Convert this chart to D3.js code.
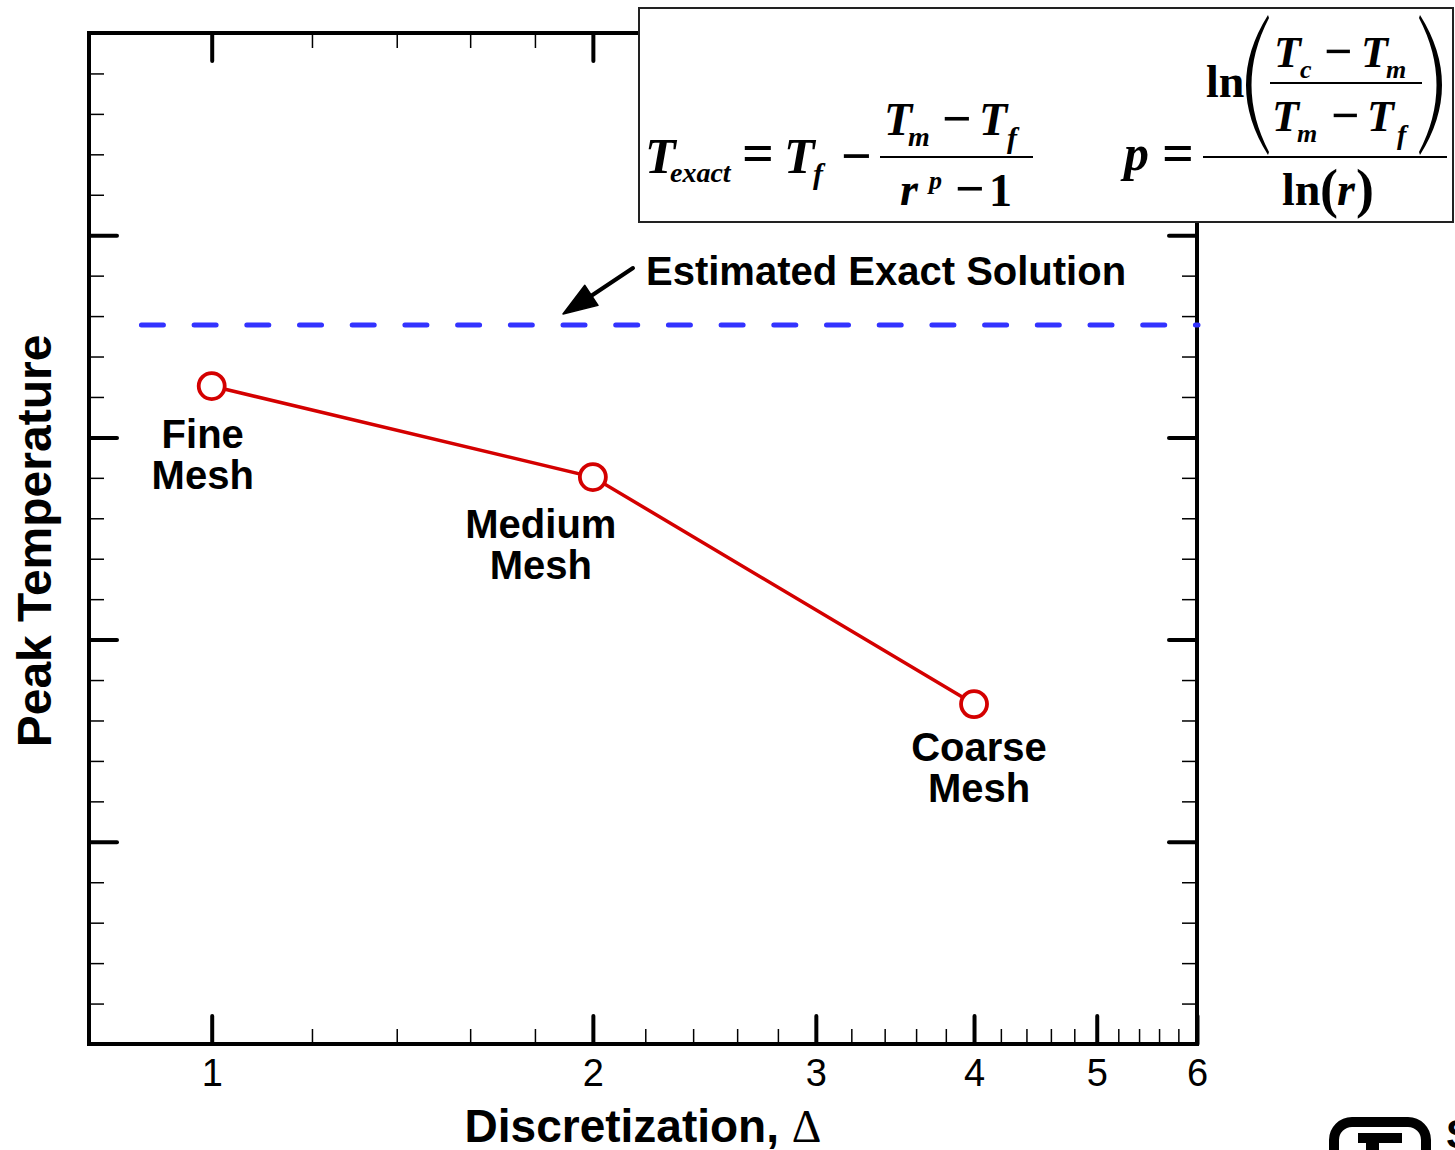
<!DOCTYPE html>
<html>
<head>
<meta charset="utf-8">
<script src="https://cdn.jsdelivr.net/npm/d3@7"></script>
<style>
  html, body { margin: 0; padding: 0; background: #fff; }
  svg { display: block; }
</style>
</head>
<body>
<svg id="chart" width="1455" height="1150"></svg>
<script>
// ---------- data ----------
const meshNames = ["Fine", "Medium", "Coarse"];
const discretization = [1, 2, 4];
const peakTemperature = [3.254, 2.804, 1.681];
const exactSolution = 3.556;
const exactLineStart = 0.88;
const xMajorTicks = [1, 2, 3, 4, 5, 6];
const xMinorTicks = [1.2, 1.4, 1.6, 1.8, 2.2, 2.4, 2.6, 2.8, 3.2, 3.4, 3.6, 3.8, 4.2, 4.4, 4.6, 4.8, 5.2, 5.4, 5.6, 5.8];
const yMajorTicks = [1, 2, 3, 4];
const yMinorTicks = [0.2, 0.4, 0.6, 0.8, 1.2, 1.4, 1.6, 1.8, 2.2, 2.4, 2.6, 2.8, 3.2, 3.4, 3.6, 3.8, 4.2, 4.4, 4.6, 4.8];
const xDomain = [0.8, 6];
const yDomain = [0, 5];

// ---------- layout ----------
const svg = d3.select("#chart");
const L = 89, R = 1197, T = 33, B = 1044;
const x = d3.scaleLog().domain(xDomain).range([L, R]);
const y = d3.scaleLinear().domain(yDomain).range([B, T]);
const sans = "'Liberation Sans', Arial, Helvetica, sans-serif";
const serif = "'Liberation Serif', 'Times New Roman', Times, serif";

const MAJ = 28, MIN = 15;

function styleAxis(g, w, cap) {
  g.select(".domain").remove();
  g.selectAll(".tick line").attr("stroke", "#000").attr("stroke-width", w).attr("stroke-linecap", cap);
}

// bottom
svg.append("g").attr("transform", `translate(0,${B})`)
  .call(d3.axisBottom(x).tickValues(xMinorTicks).tickSize(-MIN).tickFormat(""))
  .call(g => styleAxis(g, 1.5, "butt"));
svg.append("g").attr("transform", `translate(0,${B})`)
  .call(d3.axisBottom(x).tickValues(xMajorTicks).tickSize(-MAJ).tickPadding(15).tickFormat(d3.format("d")))
  .call(g => styleAxis(g, 4, "round"))
  .call(g => g.selectAll(".tick text").attr("font-family", sans).attr("font-size", 38).attr("fill", "#000"));
// top
svg.append("g").attr("transform", `translate(0,${T})`)
  .call(d3.axisTop(x).tickValues(xMinorTicks).tickSize(-MIN).tickFormat(""))
  .call(g => styleAxis(g, 1.5, "butt"));
svg.append("g").attr("transform", `translate(0,${T})`)
  .call(d3.axisTop(x).tickValues(xMajorTicks).tickSize(-MAJ).tickFormat(""))
  .call(g => styleAxis(g, 4, "round"));
// left
svg.append("g").attr("transform", `translate(${L},0)`)
  .call(d3.axisLeft(y).tickValues(yMinorTicks).tickSize(-MIN).tickFormat(""))
  .call(g => styleAxis(g, 1.5, "butt"));
svg.append("g").attr("transform", `translate(${L},0)`)
  .call(d3.axisLeft(y).tickValues(yMajorTicks).tickSize(-MAJ).tickFormat(""))
  .call(g => styleAxis(g, 4, "round"));
// right
svg.append("g").attr("transform", `translate(${R},0)`)
  .call(d3.axisRight(y).tickValues(yMinorTicks).tickSize(-MIN).tickFormat(""))
  .call(g => styleAxis(g, 1.5, "butt"));
svg.append("g").attr("transform", `translate(${R},0)`)
  .call(d3.axisRight(y).tickValues(yMajorTicks).tickSize(-MAJ).tickFormat(""))
  .call(g => styleAxis(g, 4, "round"));

// frame
svg.append("rect").attr("x", L).attr("y", T).attr("width", R - L).attr("height", B - T)
  .attr("fill", "none").attr("stroke", "#000").attr("stroke-width", 4);

// exact solution dashed line
svg.append("line")
  .attr("x1", x(exactLineStart)).attr("x2", R + 1)
  .attr("y1", y(exactSolution)).attr("y2", y(exactSolution))
  .attr("stroke", "#3333ff").attr("stroke-width", 5)
  .attr("stroke-dasharray", "22,30.7").attr("stroke-linecap", "round");

// data line
const pts = discretization.map((d, i) => ({ x: d, y: peakTemperature[i], name: meshNames[i] }));
svg.append("path").datum(pts)
  .attr("d", d3.line().x(d => x(d.x)).y(d => y(d.y)))
  .attr("fill", "none").attr("stroke", "#d40000").attr("stroke-width", 3.5);
svg.selectAll("circle.pt").data(pts).join("circle")
  .attr("class", "pt").attr("cx", d => x(d.x)).attr("cy", d => y(d.y)).attr("r", 13)
  .attr("fill", "#fff").attr("stroke", "#d40000").attr("stroke-width", 3.8);

// point labels
const labelPos = [
  { dx: -9, dy: 62 },
  { dx: -52, dy: 61 },
  { dx: 5, dy: 57 }
];
pts.forEach((d, i) => {
  const cx = x(d.x) + labelPos[i].dx, cy = y(d.y) + labelPos[i].dy;
  const t = svg.append("text").attr("font-family", sans).attr("font-weight", "bold")
    .attr("font-size", 40).attr("text-anchor", "middle").attr("fill", "#000");
  t.append("tspan").attr("x", cx).attr("y", cy).text(d.name);
  t.append("tspan").attr("x", cx).attr("y", cy + 41).text("Mesh");
});

// annotation
svg.append("text").attr("x", 646).attr("y", 285)
  .attr("font-family", sans).attr("font-weight", "bold").attr("font-size", 40).attr("fill", "#000")
  .text("Estimated Exact Solution");
svg.append("line").attr("x1", 633).attr("y1", 268).attr("x2", 585).attr("y2", 300)
  .attr("stroke", "#000").attr("stroke-width", 4).attr("stroke-linecap", "round");
(function () {
  const tip = [563, 314], tail = [633, 268];
  const ang = Math.atan2(tail[1] - tip[1], tail[0] - tip[0]);
  const len = 34, hw = 12;
  const bx = tip[0] + len * Math.cos(ang), by = tip[1] + len * Math.sin(ang);
  const px = -Math.sin(ang) * hw, py = Math.cos(ang) * hw;
  svg.append("path")
    .attr("d", `M${tip[0]},${tip[1]}L${bx + px},${by + py}L${bx - px},${by - py}Z`)
    .attr("fill", "#000").attr("stroke", "#000").attr("stroke-width", 1.5).attr("stroke-linejoin", "round");
})();

// axis titles
svg.append("text").attr("transform", "translate(51,541) rotate(-90)")
  .attr("text-anchor", "middle").attr("font-family", sans).attr("font-weight", "bold")
  .attr("font-size", 48).attr("fill", "#000").text("Peak Temperature");
const xt = svg.append("text").attr("x", 643).attr("y", 1142).attr("text-anchor", "middle")
  .attr("font-family", sans).attr("font-weight", "bold").attr("font-size", 46).attr("fill", "#000");
xt.append("tspan").text("Discretization, ");
xt.append("tspan").attr("font-family", serif).attr("font-weight", "normal").text("Δ");

// ---------- formula box ----------
svg.append("rect").attr("x", 639).attr("y", 8).attr("width", 814).attr("height", 214)
  .attr("fill", "#fff").attr("stroke", "#222").attr("stroke-width", 2);

function m(txt, px, py, size, italic, anchor) {
  svg.append("text").attr("x", px).attr("y", py)
    .attr("font-family", serif).attr("font-weight", "bold")
    .attr("font-style", italic ? "italic" : "normal")
    .attr("font-size", size).attr("text-anchor", anchor || "start").attr("fill", "#000")
    .text(txt);
}
function hline(x1, x2, yy) {
  svg.append("line").attr("x1", x1).attr("x2", x2).attr("y1", yy).attr("y2", yy)
    .attr("stroke", "#000").attr("stroke-width", 2);
}

// T_exact = T_f - (T_m - T_f)/(r^p - 1)
m("T", 645, 173, 50, true);
m("exact", 670, 182, 28, true);
m("=", 742, 172, 56, false);
m("T", 784, 173, 50, true);
m("f", 813, 184, 30, true);
m("−", 841, 174, 54, false);
m("T", 884, 135, 46, true);
m("m", 908, 146, 28, true);
m("−", 942, 136, 52, false);
m("T", 979, 135, 46, true);
m("f", 1007, 148, 30, true);
hline(880, 1033, 157);
m("r", 900, 205, 46, true);
m("p", 929, 189, 26, true);
m("−", 955, 206, 52, false);
m("1", 989, 206, 46, false);

// p = ln((Tc-Tm)/(Tm-Tf)) / ln(r)
m("p", 1124, 170, 50, true);
m("=", 1162, 172, 56, false);
hline(1203, 1447, 157);
m("ln", 1206, 97, 46, false);
svg.append("path")
  .attr("d", "M1268,15 Q1224,85 1268,155 L1269,152 Q1234,85 1269,18 Z")
  .attr("fill", "#000");
svg.append("path")
  .attr("d", "M1420,15 Q1464,85 1420,155 L1419,152 Q1454,85 1419,18 Z")
  .attr("fill", "#000");
m("T", 1274, 67, 44, true);
m("c", 1300, 78, 26, true);
m("−", 1324, 68, 50, false);
m("T", 1361, 67, 44, true);
m("m", 1386, 78, 26, true);
hline(1270, 1422, 83);
m("T", 1272, 131, 44, true);
m("m", 1297, 142, 26, true);
m("−", 1331, 132, 50, false);
m("T", 1367, 131, 44, true);
m("f", 1397, 144, 28, true);
m("ln", 1282, 205, 46, false);
m("(", 1320, 207, 54, false);
m("r", 1337, 205, 46, true);
m(")", 1356, 207, 54, false);

// ---------- partial logo at bottom right ----------
svg.append("rect").attr("x", 1334).attr("y", 1122).attr("width", 92).attr("height", 70)
  .attr("rx", 18).attr("fill", "none").attr("stroke", "#000").attr("stroke-width", 10);
svg.append("rect").attr("x", 1358).attr("y", 1133).attr("width", 44).attr("height", 10).attr("fill", "#000");
svg.append("rect").attr("x", 1366).attr("y", 1133).attr("width", 13).attr("height", 20).attr("fill", "#000");
svg.append("text").attr("x", 1446).attr("y", 1148).attr("font-family", sans).attr("font-weight", "bold")
  .attr("font-size", 40).attr("fill", "#000").text("S");
</script>
</body>
</html>
